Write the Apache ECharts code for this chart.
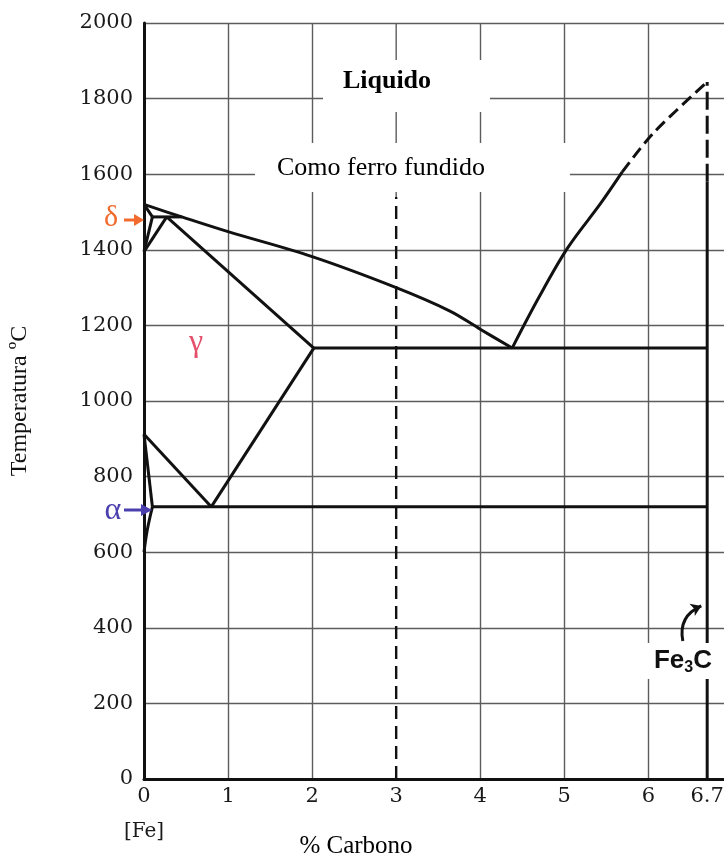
<!DOCTYPE html>
<html>
<head>
<meta charset="utf-8">
<script src="https://cdn.jsdelivr.net/npm/echarts@6/dist/echarts.min.js"></script>
<style>
  html, body { margin: 0; padding: 0; background: #ffffff; }
  #chart { width: 724px; height: 860px; }
</style>
</head>
<body>
<div id="chart"></div>
<script>
// Diagrama de fases ferro–carbono: % de carbono (x) × temperatura em ºC (y)

// Rótulos do eixo x (composição)
const carbonTicks = [0, 1, 2, 3, 4, 5, 6, 6.7];

// Linha liquidus, lado do ferro até o ponto eutético
const liquidusFe = [[0, 1520], [0.45, 1487], [1, 1448], [2, 1382], [3, 1300], [3.64, 1238], [4, 1190], [4.38, 1140]];
// Linha liquidus, lado da cementita (trecho medido e trecho estimado)
const liquidusCementite = [[4.38, 1140], [4.7, 1275], [5.04, 1405], [5.43, 1522], [5.69, 1606]];
const liquidusCementiteEst = [[5.69, 1606], [6.06, 1709], [6.7, 1844]];

// Região δ e reação peritética
const deltaSolidus = [[0, 1520], [0.1, 1487]];
const deltaBoundary = [[0.1, 1487], [0, 1395]];
const gammaDeltaBoundary = [[0.27, 1487], [0, 1395]];
const peritectic = [[0.1, 1487], [0.45, 1487]];

// Solidus da austenita e patamar eutético
const gammaSolidus = [[0.27, 1487], [2.02, 1140]];
const eutectic = [[2.02, 1140], [6.7, 1140]];

// Linhas Acm, A3, ferrita e patamar eutetóide
const acmLine = [[0.8, 720], [2.02, 1140]];
const a3Line = [[0, 912], [0.8, 720]];
const alphaGamma = [[0, 912], [0.1, 720]];
const alphaSolvus = [[0.1, 720], [0.04, 660], [0, 600]];
const eutectoid = [[0.1, 720], [6.7, 720]];

// Cementita (Fe3C)
const cementite = [[6.7, 0], [6.7, 1580]];
const cementiteEst = [[6.7, 1580], [6.7, 1844]];

// Composição típica de ferro fundido (3 % C)
const castIron = [[3, 0], [3, 1540]];
const castIronGrid = [[3, 1540], [3, 2000]];

// Seta curva que aponta para a linha de Fe3C
const fe3cArrow = [[6.41, 365], [6.63, 458]];

const chart = echarts.init(document.getElementById('chart'), null, { renderer: 'canvas' });

function boundary(data, dash, width, smooth) {
  return {
    type: 'line',
    data: data,
    showSymbol: false,
    symbol: 'none',
    clip: false,
    silent: true,
    smooth: smooth || false,
    z: 5,
    lineStyle: {
      color: '#111111',
      width: width || 3,
      type: dash || 'solid',
      cap: 'butt',
      join: 'round'
    }
  };
}

const gridColor = '#5c5c5c';
const serif = 'Liberation Serif';

const option = {
  backgroundColor: '#ffffff',
  animation: false,
  grid: { left: 144, right: 0, top: 23, bottom: 81, outerBoundsMode: 'none' },
  xAxis: {
    type: 'value',
    min: 0,
    max: 6.9,
    interval: 1,
    axisLine: { show: true, onZero: false, lineStyle: { color: '#111', width: 3 } },
    axisTick: { show: false },
    splitLine: {
      show: true,
      showMinLine: true,
      showMaxLine: false,
      lineStyle: {
        color: [gridColor, gridColor, gridColor, 'rgba(0,0,0,0)', gridColor, gridColor, gridColor],
        width: 1.4
      }
    },
    axisLabel: {
      customValues: carbonTicks,
      margin: 6,
      formatter: function (v) {
        return v === 0 ? '{n|0}\n{fe|[Fe]}' : '{n|' + v + '}';
      },
      rich: {
        n: { fontFamily: 'DejaVu Serif', fontSize: 21, lineHeight: 24, color: '#1a1a1a' },
        fe: { fontFamily: 'DejaVu Serif', fontSize: 20, lineHeight: 46, color: '#1a1a1a' }
      }
    }
  },
  yAxis: {
    type: 'value',
    min: 0,
    max: 2000,
    interval: 200,
    name: 'Temperatura ºC',
    nameLocation: 'middle',
    nameRotate: 90,
    nameGap: 112,
    nameTextStyle: { fontFamily: serif, fontSize: 24, color: '#111' },
    axisLine: { show: true, lineStyle: { color: '#111', width: 3 } },
    axisTick: { show: false },
    splitLine: { show: true, lineStyle: { color: gridColor, width: 1.4 } },
    axisLabel: {
      margin: 11,
      fontFamily: 'DejaVu Serif',
      fontSize: 21,
      color: '#1a1a1a',
      formatter: function (v) { return String(v); }
    }
  },
  series: [
    boundary(liquidusFe, null, 3, 0.35),
    boundary(liquidusCementite, null, 3, 0.35),
    boundary(liquidusCementiteEst, [12, 6], 3, 0.3),
    boundary(deltaSolidus),
    boundary(deltaBoundary),
    boundary(gammaDeltaBoundary),
    boundary(peritectic),
    boundary(gammaSolidus),
    boundary(eutectic),
    boundary(acmLine),
    boundary(a3Line),
    boundary(alphaGamma),
    boundary(alphaSolvus, null, 3, 0.4),
    boundary(eutectoid),
    boundary(cementite),
    boundary(cementiteEst, [18, 6]),
    boundary(castIron, [13, 7], 2.4),
    {
      type: 'line',
      data: castIronGrid,
      showSymbol: false,
      clip: false,
      silent: true,
      z: 1,
      lineStyle: { color: gridColor, width: 1.4 }
    },
    {
      type: 'lines',
      coordinateSystem: 'cartesian2d',
      silent: true,
      z: 60,
      symbol: ['none', 'arrow'],
      symbolSize: 10,
      lineStyle: { color: '#111', width: 3, curveness: 0.4, opacity: 1 },
      data: [{ coords: fe3cArrow }]
    }
  ],
  graphic: [
    // caixas brancas dos rótulos
    { type: 'rect', z: 50, shape: { x: 323, y: 60, width: 167, height: 52 }, style: { fill: '#ffffff' } },
    { type: 'rect', z: 50, shape: { x: 255, y: 143, width: 315, height: 49 }, style: { fill: '#ffffff' } },
    { type: 'rect', z: 50, shape: { x: 642, y: 643, width: 80, height: 36 }, style: { fill: '#ffffff' } },
    {
      type: 'text', z: 55, x: 387, y: 81,
      style: { text: 'Liquido', fontFamily: serif, fontWeight: 'bold', fontSize: 26, fill: '#000', align: 'center', verticalAlign: 'middle' }
    },
    {
      type: 'text', z: 55, x: 381, y: 168,
      style: { text: 'Como ferro fundido', fontFamily: serif, fontSize: 26, fill: '#000', align: 'center', verticalAlign: 'middle' }
    },
    {
      type: 'text', z: 55, x: 356, y: 846,
      style: { text: '% Carbono', fontFamily: serif, fontSize: 25, fill: '#000', align: 'center', verticalAlign: 'middle' }
    },
    {
      type: 'text', z: 55, x: 683, y: 661,
      style: {
        text: '{a|Fe}{b|3}{a|C}',
        align: 'center', verticalAlign: 'middle',
        rich: {
          a: { fontFamily: 'Liberation Sans', fontWeight: 'bold', fontSize: 26, lineHeight: 30, fill: '#111' },
          b: { fontFamily: 'Liberation Sans', fontWeight: 'bold', fontSize: 16, lineHeight: 30, fill: '#111', padding: [13, 0, 0, 0] }
        }
      }
    },
    // δ
    {
      type: 'text', z: 55, x: 111, y: 218,
      style: { text: 'δ', fontFamily: serif, fontSize: 30, fill: '#f26a2e', align: 'center', verticalAlign: 'middle' }
    },
    { type: 'line', z: 55, shape: { x1: 124, y1: 220, x2: 136, y2: 220 }, style: { stroke: '#f26a2e', lineWidth: 3 } },
    { type: 'polygon', z: 55, shape: { points: [[144, 220], [134, 214], [134, 226]] }, style: { fill: '#f26a2e' } },
    // α
    {
      type: 'text', z: 55, x: 113, y: 511,
      style: { text: 'α', fontFamily: serif, fontSize: 32, fill: '#4b3fae', align: 'center', verticalAlign: 'middle' }
    },
    { type: 'line', z: 55, shape: { x1: 124, y1: 510, x2: 143, y2: 510 }, style: { stroke: '#4b3fae', lineWidth: 3 } },
    { type: 'polygon', z: 55, shape: { points: [[152, 510], [141, 504], [141, 516]] }, style: { fill: '#4b3fae' } },
    // γ
    {
      type: 'text', z: 55, x: 196, y: 343,
      style: { text: 'γ', fontFamily: serif, fontSize: 32, fill: '#e5506c', align: 'center', verticalAlign: 'middle' }
    }
  ]
};

chart.setOption(option);
</script>
</body>
</html>
